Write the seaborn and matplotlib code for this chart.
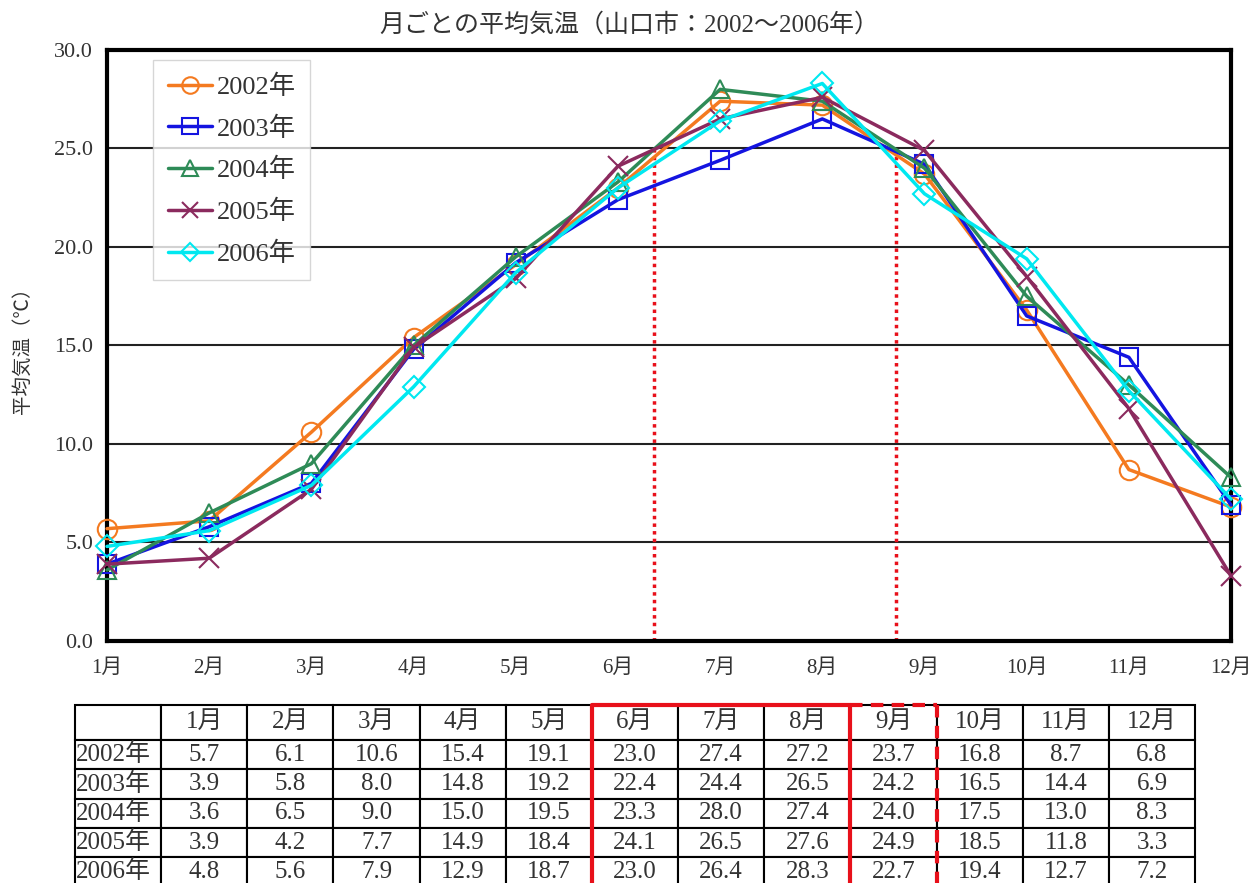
import numpy as np
import pandas as pd
import seaborn as sns
import matplotlib.pyplot as plt
from matplotlib.lines import Line2D

# Monthly mean temperature, Yamaguchi city
months = ['1月', '2月', '3月', '4月', '5月', '6月', '7月', '8月', '9月', '10月', '11月', '12月']
years = ['2002年', '2003年', '2004年', '2005年', '2006年']
t2002 = [5.7, 6.1, 10.6, 15.4, 19.1, 23.0, 27.4, 27.2, 23.7, 16.8, 8.7, 6.8]
t2003 = [3.9, 5.8, 8.0, 14.8, 19.2, 22.4, 24.4, 26.5, 24.2, 16.5, 14.4, 6.9]
t2004 = [3.6, 6.5, 9.0, 15.0, 19.5, 23.3, 28.0, 27.4, 24.0, 17.5, 13.0, 8.3]
t2005 = [3.9, 4.2, 7.7, 14.9, 18.4, 24.1, 26.5, 27.6, 24.9, 18.5, 11.8, 3.3]
t2006 = [4.8, 5.6, 7.9, 12.9, 18.7, 23.0, 26.4, 28.3, 22.7, 19.4, 12.7, 7.2]
# red dotted markers (position in month index units)
season_lines = [5.35, 7.72]

series = [t2002, t2003, t2004, t2005, t2006]
colors = ['#f47a20', '#1414e0', '#2e8b57', '#8b2a5e', '#00e8f0']
markers = ['o', 's', '^', 'x', 'D']
msizes = [14, 13, 13, 14, 11]

rows = []
for y, vals in zip(years, series):
    for i, v in enumerate(vals):
        rows.append({'month': i, 'year': y, 'temp': v})
df = pd.DataFrame(rows)

sns.set_style('white')
plt.rcParams['font.family'] = ['Liberation Serif', 'Noto Sans CJK JP', 'DejaVu Sans']

fig = plt.figure(figsize=(12.59, 8.83), dpi=100)
ax = fig.add_axes([0.085, 0.2741, 0.8928, 0.6693])

sns.lineplot(data=df, x='month', y='temp', hue='year',
             palette=dict(zip(years, colors)), linewidth=2.5, legend=False, ax=ax)

handles = []
for line, c, m, ms in zip(ax.lines[:5], colors, markers, msizes):
    line.set_marker(m)
    line.set_markerfacecolor('none')
    line.set_markeredgecolor(c)
    line.set_markeredgewidth(1.5)
    line.set_markersize(ms)
    line.set_clip_on(False)
    line.set_zorder(3)
    handles.append(Line2D([], [], color=c, lw=2.5, marker=m, mfc='none', mec=c,
                          mew=1.5, ms=ms * 0.85))

for xv in season_lines:
    ax.plot([xv, xv], [0, 25], color='#e8101a', lw=2.5, ls=(0, (1, 1.2)), zorder=1)

ax.set_xlim(0, 11)
ax.set_ylim(0, 30)
ax.set_xticks(range(12))
ax.set_xticklabels(months, fontsize=15)
ax.set_yticks(np.arange(0, 31, 5))
ax.set_yticklabels([f'{v:.1f}' for v in np.arange(0, 31, 5)], fontsize=16, color='#333333')
ax.tick_params(axis='both', direction='in', length=5, color='#999999', pad=10)
ax.tick_params(axis='x', labelcolor='#333333', pad=13)
for yv in range(5, 30, 5):
    ax.axhline(yv, color='#222222', lw=1.5, zorder=0)
for s in ax.spines.values():
    s.set_color('black')
    s.set_linewidth(3)
    s.set_zorder(2)
ax.set_xlabel('')
ax.set_ylabel('平均気温（℃）', fontsize=14, color='#333333', labelpad=16)

leg = ax.legend(handles, years, loc='upper left', bbox_to_anchor=(0.041, 0.983),
                fontsize=19, frameon=True, fancybox=False, handlelength=1.7,
                handletextpad=0.15, labelspacing=0.66, borderpad=0.55,
                borderaxespad=0)
leg.get_frame().set_edgecolor('#cccccc')
leg.get_frame().set_linewidth(1.0)
leg.set_zorder(4)
for t in leg.get_texts():
    t.set_color('#333333')

fig.text(0.5, 0.972, '月ごとの平均気温（山口市：2002～2006年）', ha='center', va='center',
         fontsize=18, color='#333333')

# data table below the chart
tab_ax = fig.add_axes([0.0596, -0.004, 0.8896, 0.206])
tab_ax.axis('off')
cell_text = [[''] + months]
for y, vals in zip(years, series):
    cell_text.append([y] + [f'{v:.1f}' for v in vals])
ncol = len(months) + 1
tbl = tab_ax.table(cellText=cell_text, cellLoc='center', bbox=[0, 0, 1, 1])
tbl.auto_set_font_size(False)
tbl.set_fontsize(18)
for (r, c), cell in tbl.get_celld().items():
    cell.set_linewidth(1.5)
    cell.set_edgecolor('black')
    cell.set_height(0.035 if r == 0 else 0.029)
    cell.get_text().set_color('#333333')
    if c == 0 and r > 0:
        cell.get_text().set_ha('left')
        cell._loc = 'left'
        cell.PAD = 0.01

edges = np.linspace(0, 1, ncol + 1)
red = '#e8101a'
x0, x1, x2 = edges[6], edges[9], edges[10]
tab_ax.plot([x0, x0, x1, x1, x0], [0, 1, 1, 0, 0], color=red, lw=3, clip_on=False, zorder=5)
tab_ax.plot([x1, x2], [1, 1], color=red, lw=3, ls=(0, (3, 2)), clip_on=False, zorder=5)
tab_ax.plot([x2, x2], [1, 0], color=red, lw=3, ls=(0, (3, 2)), clip_on=False, zorder=5)
tab_ax.set_xlim(0, 1)
tab_ax.set_ylim(0, 1)

fig.savefig('out.png', dpi=100, facecolor='white')
